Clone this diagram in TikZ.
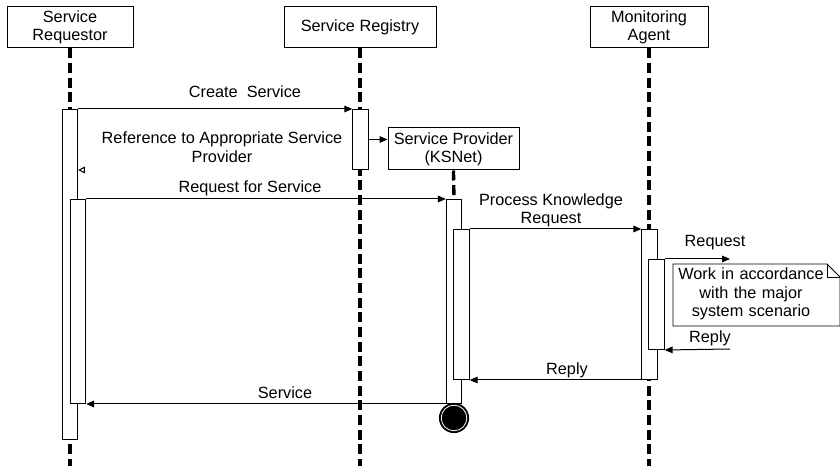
\documentclass[tikz,border=0pt]{standalone}
\usepackage{fontspec}
\setmainfont{Liberation Sans}
\usetikzlibrary{arrows.meta}

\tikzset{
  head/.style={draw, line width=0.75pt, align=center, inner sep=1pt, minimum height=30.75pt},
  life/.style={line width=2.5pt, dash pattern=on 7.5pt off 3.5pt},
  actbar/.style={draw, fill=white, line width=0.75pt, minimum width=11.5pt, inner sep=0pt, anchor=north},
  msg/.style={line width=0.75pt, -{Triangle[length=6pt,width=5pt]}},
  lbl/.style={align=center, inner sep=0pt}
}

\begin{document}
\begin{tikzpicture}[x=0.75pt,y=-0.75pt,font=\fontsize{12.2}{13.8}\selectfont]
  \useasboundingbox (0,0) rectangle (840,466);

  % Headers
  \node[head, minimum width=94.5pt] (req) at (70,27.5) {Service\\Requestor};
  \node[head, minimum width=114pt] (reg) at (360,27.5) {Service Registry};
  \node[head, minimum width=88.5pt] (mon) at (649,27.5) {Monitoring\\Agent};
  \node[head, minimum width=98.25pt, minimum height=31.5pt] (sp) at (453.5,149) {Service Provider\\(KSNet)};

  % Lifelines
  \coordinate (reqend) at (70,466);
  \coordinate (regend) at (360,466);
  \coordinate (monend) at (649,466);
  \draw[life] (req.south) -- (reqend);
  \draw[life] (reg.south) -- (regend);
  \draw[life] (mon.south) -- (monend);

  % Activation bars
  \node[actbar, minimum height=247.5pt] (reqA) at (70,109) {};
  \node[actbar, minimum height=153pt] (reqB) at (78,199) {};
  \node[actbar, minimum height=45pt] (regA) at (360.5,109) {};
  \node[actbar, minimum height=153pt] (spA) at (454,199) {};
  \draw[life] (sp.south) -- (spA.north);
  \node[actbar, minimum height=112.5pt] (spB) at (461.5,229) {};
  \node[actbar, minimum height=112.5pt] (monA) at (649.5,229) {};
  \node[actbar, minimum height=67.5pt] (monB) at (656.5,259) {};

  % Messages
  \draw[msg] (reqA.north east) -- (regA.north west);
  \node[lbl] (lcreate) at (245,92) {Create\ \ Service};
  \draw[msg] (regA.east) -- (regA.east -| sp.west);
  \draw[white, line width=0.75pt, -{Triangle[open,length=5pt,width=5pt,color=black,line width=0.8pt]}] (regA.south west) -- (reqA.east |- regA.south west);
  \node[lbl] (lref) at (222,147) {Reference to Appropriate Service\\Provider};
  \draw[msg] (reqB.north east) -- (spA.north west);
  \node[lbl] (lreqs) at (250,188) {Request for Service};
  \draw[msg] (spB.north east) -- (monA.north west);
  \node[lbl] (lproc) at (551,210) {Process Knowledge\\Request};
  \coordinate (rqend) at (730,259);
  \draw[msg] (monB.north east) -- (rqend);
  \node[lbl] (lrq) at (715,243) {Request};
  \coordinate (rpstart) at (730,349);
  \draw[msg] (rpstart) -- (monB.south east);
  \node[lbl] (lrp) at (710,338) {Reply};
  \draw[msg] (monA.south west) -- (spB.south east);
  \node[lbl] (lrp2) at (567,370) {Reply};
  \draw[msg] (spA.south west) -- (reqB.south east);
  \node[lbl] (lserv) at (285,393) {Service};

  % Note
  \draw[line width=0.6pt, fill=white] (673,264) -- (827,264) -- (840,277) -- (840,326) -- (673,326) -- cycle;
  \draw[line width=0.6pt] (827,264) -- (827,277) -- (840,277);
  \node[lbl, text width=150pt] (note) at (751,294) {Work in accordance\\with the major\\system scenario};

  % End of Service Provider
  \fill (454,418) circle (11.3pt);
  \draw[white, line width=0.6pt] (454,418) circle (9.6pt);
\end{tikzpicture}
\end{document}
